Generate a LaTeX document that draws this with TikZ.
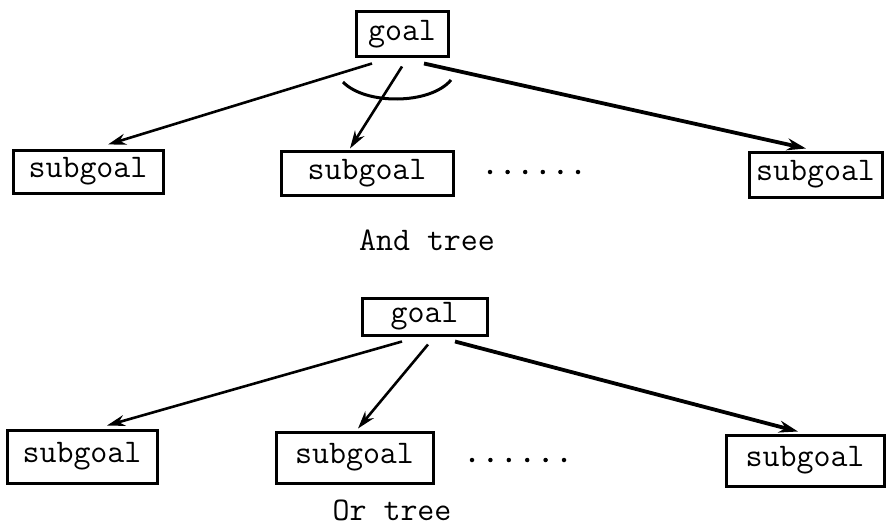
\documentclass[tikz,border=0pt]{standalone}
\usepackage{fontspec}
\usetikzlibrary{arrows.meta,calc}
\begin{document}
\begin{tikzpicture}[x=1pt,y=-1pt,
  box/.style={draw, line width=3pt, inner sep=0pt, font=\ttfamily\fontsize{33}{40}\selectfont},
  lbl/.style={inner sep=0pt, font=\ttfamily\fontsize{33}{40}\selectfont},
  arr/.style={line width=2.6pt, -{Stealth[length=18pt,width=11pt]}},
  thick arr/.style={line width=3.8pt, -{Stealth[length=19pt,width=12pt]}},
  dot/.style={circle, fill=black, inner sep=0pt, minimum size=4.5pt}]
\useasboundingbox (0,0) rectangle (886,527);
% ---------- And tree ----------
\node[box, minimum width=92pt, minimum height=45pt] (A) at (402,34.5) {goal};
\node[box, minimum width=150pt, minimum height=43pt] (s1) at (88,171.5) {subgoal};
\node[box, minimum width=172pt, minimum height=44pt] (s2) at (367,173) {subgoal};
\node[box, minimum width=133pt, minimum height=45pt] (s3) at (815.5,174.5) {subgoal};
\foreach \i in {0,...,5} \node[dot] (ad\i) at (490+17.6*\i,172) {};
\node[lbl] (andlbl) at (427,240) {And tree};
\draw[arr] ($(A.south)+(-30,5)$) -- ($(s1.north)+(20,-4)$);
\draw[arr] ($(A.south)+(0,8)$) -- ($(s2.north)+(-17,-1)$);
\draw[thick arr] ($(A.south)+(22,5)$) -- ($(s3.north)+(-9.5,-2)$);
\draw[line width=3pt] (343,82) .. controls (365,105) and (430,105) .. (451,80);
% ---------- Or tree ----------
\node[box, minimum width=125pt, minimum height=37pt] (B) at (424.5,316.5) {goal};
\node[box, minimum width=150pt, minimum height=53pt] (t1) at (82,456.5) {subgoal};
\node[box, minimum width=157pt, minimum height=51pt] (t2) at (354.5,457.5) {subgoal};
\node[box, minimum width=158pt, minimum height=51pt] (t3) at (805,460.5) {subgoal};
\foreach \i in {0,...,5} \node[dot] (od\i) at (472+18.4*\i,460) {};
\node[lbl] (orlbl) at (392,510) {Or tree};
\draw[arr] ($(B.south)+(-22.5,5)$) -- ($(t1.north)+(25,-3)$);
\draw[arr] ($(B.south)+(3.5,8)$) -- ($(t2.north)+(3.5,-2)$);
\draw[thick arr] ($(B.south)+(30.5,5)$) -- ($(t3.north)+(-7,-2)$);
\end{tikzpicture}
\end{document}
